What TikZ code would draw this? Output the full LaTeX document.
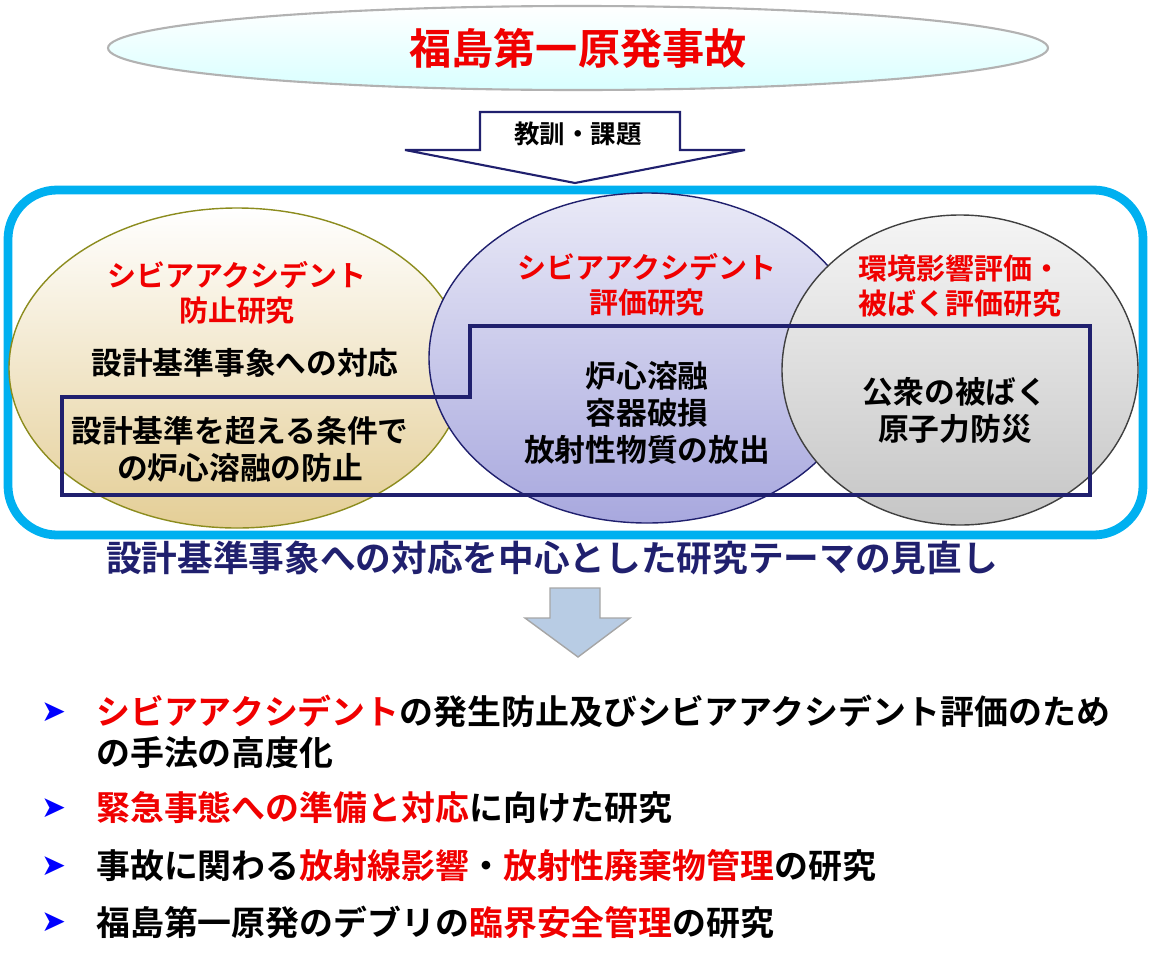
\documentclass[tikz,border=0pt]{standalone}
\usepackage{fontspec}
\setmainfont{Noto Sans CJK JP}[BoldFont={Noto Sans CJK JP Bold}]
\newfontfamily\symfont{DejaVu Sans}
\usetikzlibrary{shapes.geometric}
\definecolor{navy}{RGB}{32,32,110}
\definecolor{skyline}{RGB}{0,176,240}
\definecolor{redtext}{RGB}{240,0,0}
\definecolor{tan}{RGB}{228,206,150}
\definecolor{lavender}{RGB}{168,168,222}
\definecolor{olive}{RGB}{140,140,30}
\definecolor{steel}{RGB}{184,204,228}

\begin{document}
\begin{tikzpicture}[x=0.02cm,y=-0.02cm,
    title/.style={font={\fontsize{24}{28}\selectfont\bfseries},text=redtext},
    head/.style={font={\fontsize{16.5}{20}\selectfont\bfseries},text=redtext,align=center},
    body/.style={font={\fontsize{17.5}{21}\selectfont\bfseries},align=center},
    item/.style={font={\fontsize{19.3}{23}\selectfont\bfseries},anchor=west,align=left},
    bullet/.style={font={\symfont\fontsize{17}{19}\selectfont},text=blue,anchor=west},
    ]
    \useasboundingbox (0,0) rectangle (1153,967);
    % accident
    \shade[top color=white,bottom color=cyan!15,draw=gray!60,line width=1.2pt]
        (578,48) ellipse [x radius=470,y radius=42];
    \node[title] (accident) at (578,48) {福島第一原発事故};

    % lessons arrow
    \draw[navy,fill=white,line width=1.2pt] (480,112) -- (680,112) -- (680,150) -- (745,150)
        -- (575,183) -- (405,150) -- (480,150) -- cycle;
    \node[font={\fontsize{14.5}{17}\selectfont\bfseries}] (lesson) at (578,134) {教訓・課題};

    % research frame
    \draw[skyline,line width=5pt,rounded corners=28pt] (8,190) rectangle (1143,535);

    % three fields
    \shade[top color=white,bottom color=tan,draw=olive,line width=0.8pt]
        (237,368) ellipse [x radius=228,y radius=160];
    \shade[top color=lavender!25,bottom color=lavender,draw=navy,line width=0.8pt]
        (647,358) ellipse [x radius=218,y radius=165];
    \shade[top color=gray!8,bottom color=gray!45,draw=black!75,line width=0.8pt]
        (960,370) ellipse [x radius=178,y radius=155];

    % design basis border
    \draw[navy,line width=2.8pt] (62,397) -- (470,397) -- (470,326) -- (1090,326)
        -- (1090,495) -- (62,495) -- cycle;

    \node[head] (prev) at (237,293) {シビアアクシデント\\防止研究};
    \node[body] (dbe) at (245,363) {設計基準事象への対応};
    \node[body] (beyond) at (240,449) {設計基準を超える条件で\\の炉心溶融の防止};
    \node[head] (eval) at (647,285) {シビアアクシデント\\評価研究};
    \node[body,align=center] (melt) at (647,413) {炉心溶融\\容器破損\\放射性物質の放出};
    \node[head] (env) at (960,286) {環境影響評価・\\被ばく評価研究};
    \node[body] (public) at (955,410) {公衆の被ばく\\原子力防災};

    % review
    \node[font={\fontsize{20.3}{24}\selectfont\bfseries},text=navy] (review) at (552,558)
        {設計基準事象への対応を中心とした研究テーマの見直し};

    \draw[gray!70,fill=steel,line width=0.8pt] (550,588) -- (600,588) -- (600,618) -- (630,618)
        -- (578,657) -- (525,618) -- (550,618) -- cycle;

    % results
    \node[bullet] (b1) at (35,712) {➤};
    \node[item] (i1) at (90,732) {\textcolor{redtext}{シビアアクシデント}の発生防止及びシビアアクシデント評価のため\\の手法の高度化};
    \node[bullet] (b2) at (35,808) {➤};
    \node[item] (i2) at (90,808) {\textcolor{redtext}{緊急事態への準備と対応}に向けた研究};
    \node[bullet] (b3) at (35,866) {➤};
    \node[item] (i3) at (90,866) {事故に関わる\textcolor{redtext}{放射線影響}・\textcolor{redtext}{放射性廃棄物管理}の研究};
    \node[bullet] (b4) at (35,922) {➤};
    \node[item] (i4) at (90,922) {福島第一原発のデブリの\textcolor{redtext}{臨界安全管理}の研究};
\end{tikzpicture}
\end{document}
